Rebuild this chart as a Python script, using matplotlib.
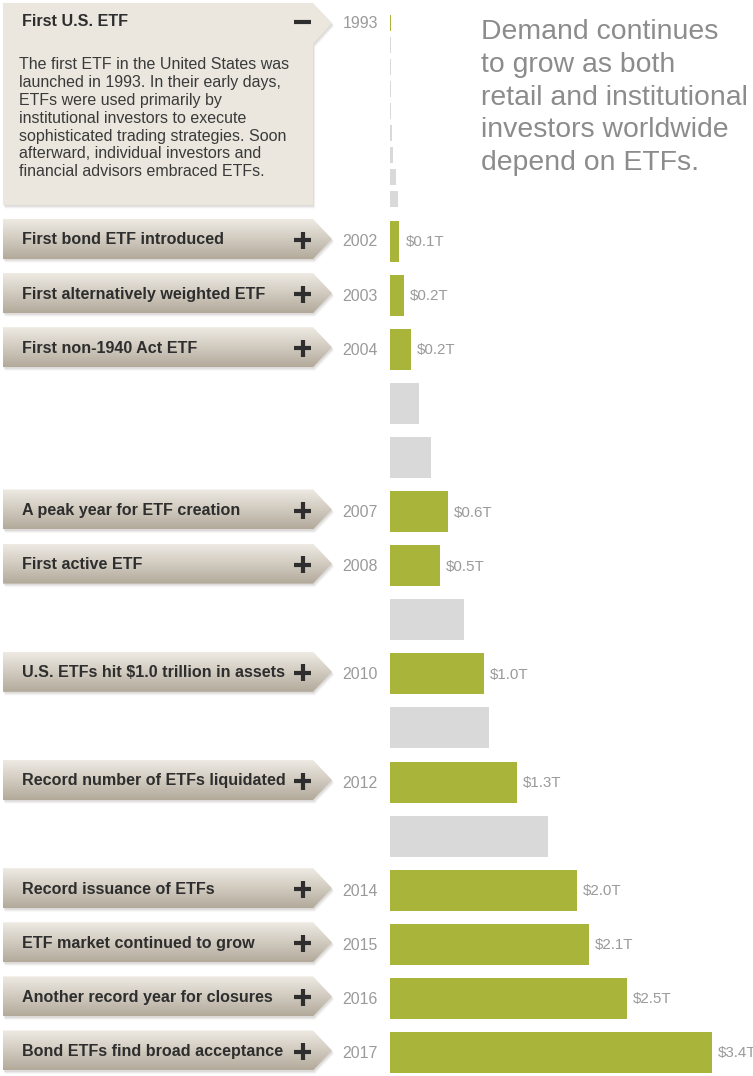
import matplotlib
matplotlib.use("Agg")
import matplotlib.pyplot as plt
import numpy as np
from matplotlib.patches import Polygon

# ---------------- data ----------------
years = [1993, 1994, 1995, 1996, 1997, 1998, 1999, 2000, 2001,
         2002, 2003, 2004, 2005, 2006, 2007, 2008, 2009, 2010,
         2011, 2012, 2013, 2014, 2015, 2016, 2017]
assets_trillions = [0.01, 0.007, 0.007, 0.008, 0.01, 0.016, 0.034, 0.066, 0.083,
                    0.10, 0.15, 0.22, 0.31, 0.43, 0.61, 0.53, 0.78, 0.99,
                    1.05, 1.34, 1.67, 1.97, 2.10, 2.50, 3.40]
milestone_years = [1993, 2002, 2003, 2004, 2007, 2008, 2010, 2012, 2014, 2015, 2016, 2017]
milestone_titles = ["First U.S. ETF",
                    "First bond ETF introduced",
                    "First alternatively weighted ETF",
                    "First non-1940 Act ETF",
                    "A peak year for ETF creation",
                    "First active ETF",
                    "U.S. ETFs hit $1.0 trillion in assets",
                    "Record number of ETFs liquidated",
                    "Record issuance of ETFs",
                    "ETF market continued to grow",
                    "Another record year for closures",
                    "Bond ETFs find broad acceptance"]
value_labels = ["", "$0.1T", "$0.2T", "$0.2T", "$0.6T", "$0.5T", "$1.0T",
                "$1.3T", "$2.0T", "$2.1T", "$2.5T", "$3.4T"]
expanded_text = ("The first ETF in the United States was\n"
                 "launched in 1993. In their early days,\n"
                 "ETFs were used primarily by\n"
                 "institutional investors to execute\n"
                 "sophisticated trading strategies. Soon\n"
                 "afterward, individual investors and\n"
                 "financial advisors embraced ETFs.")
side_note = ("Demand continues\nto grow as both\nretail and institutional\n"
             "investors worldwide\ndepend on ETFs.")

# ---------------- style ----------------
GREEN = "#a9b43a"
GREY_BAR = "#d9d9d9"
GREY_TXT = "#9a9a9a"
DARK = "#2e2e2e"
FONT = "Liberation Sans"

W, H = 753, 1076
fig = plt.figure(figsize=(W / 100, H / 100), dpi=100)
fig.patch.set_facecolor("white")
ax = fig.add_axes([0, 0, 1, 1])
ax.set_xlim(0, W)
ax.set_ylim(H, 0)
ax.axis("off")

# row layout (expanded 1993 section uses compact rows)
def row_center(y):
    if y < 2002:
        return 23 + 22.05 * (y - 1993)
    return 241 + 54.1 * (y - 2002)

def row_height(y):
    return 16 if y < 2002 else 41

BAR_X0 = 390
PX_PER_T = 94.7
bx = fig.add_axes([BAR_X0 / W, 0, (W - BAR_X0) / W, 1])
bx.set_xlim(0, (W - BAR_X0) / PX_PER_T)
bx.set_ylim(H, 0)
bx.axis("off")

centers = [row_center(y) for y in years]
heights = [row_height(y) for y in years]
colors = [GREEN if y in milestone_years else GREY_BAR for y in years]
bx.barh(centers, assets_trillions, height=heights, color=colors, left=0)

for y, lab in zip(milestone_years, value_labels):
    if not lab:
        continue
    v = assets_trillions[years.index(y)]
    bx.annotate(lab, xy=(v, row_center(y) + 1), xytext=(6, 0), textcoords="offset pixels",
                ha="left", va="center", fontsize=10.9, color=GREY_TXT, family=FONT,
                annotation_clip=False)

# year labels
for y in milestone_years:
    ax.text(378, row_center(y) + 1, str(y), ha="right", va="center",
            fontsize=11.4, color=GREY_TXT, family=FONT)

# ---------------- callout boxes ----------------
grad = np.linspace(0, 1, 64).reshape(-1, 1)
top_c = np.array([0xee, 0xea, 0xe3]) / 255
bot_c = np.array([0xb3, 0xaa, 0x9b]) / 255
grad_img = top_c[None, None, :] * (1 - grad[..., None]) + bot_c[None, None, :] * grad[..., None]
grad_img = np.repeat(grad_img, 2, axis=1)

def shadow(verts, dx=1.5, dy=2.5):
    for k, a in [(3.5, 0.06), (2.5, 0.09), (1.5, 0.12)]:
        sv = [(x + dx * k / 2.5, y + dy * k / 2.5) for x, y in verts]
        ax.add_patch(Polygon(sv, closed=True, facecolor="#7a7268", edgecolor="none",
                             alpha=a, zorder=1))

def plus(cx, cy, minus=False):
    ax.plot([cx - 8.5, cx + 8.5], [cy, cy], color=DARK, lw=3.0, solid_capstyle="butt", zorder=5)
    if not minus:
        ax.plot([cx, cx], [cy - 8.5, cy + 8.5], color=DARK, lw=3.0, solid_capstyle="butt", zorder=5)

for y, title in zip(milestone_years, milestone_titles):
    c = row_center(y) - 2
    if y == 1993:
        verts = [(3, 3), (313, 3), (332, 23), (313, 44), (313, 205), (3, 205)]
        shadow(verts)
        ax.add_patch(Polygon(verts, closed=True, facecolor="#ebe7de", edgecolor="none", zorder=2))
        ax.text(22, 22, title, ha="left", va="center", fontsize=11.6, fontweight="bold",
                color=DARK, family=FONT, zorder=5)
        plus(303, 22, minus=True)
        ax.text(19, 57, expanded_text, ha="left", va="top", fontsize=11.5,
                color="#3a3a3a", family=FONT, linespacing=1.24, zorder=5)
        continue
    top, bot = c - 20, c + 20
    verts = [(3, top), (313, top), (332, c), (313, bot), (3, bot)]
    shadow(verts)
    poly = Polygon(verts, closed=True, facecolor="none", edgecolor="none", zorder=2)
    ax.add_patch(poly)
    im = ax.imshow(grad_img, extent=[3, 332, bot, top], aspect="auto",
                   interpolation="bilinear", zorder=2)
    im.set_clip_path(poly)
    ax.text(22, c + 1, title, ha="left", va="center", fontsize=11.6, fontweight="bold",
            color=DARK, family=FONT, zorder=5)
    plus(303, c + 1)

ax.set_xlim(0, W)
ax.set_ylim(H, 0)

# side note
ax.text(481, 19, side_note, ha="left", va="top", fontsize=20.4, color="#8c8c8c",
        family=FONT, linespacing=1.34)

fig.savefig("out.png", dpi=100, facecolor="white")
